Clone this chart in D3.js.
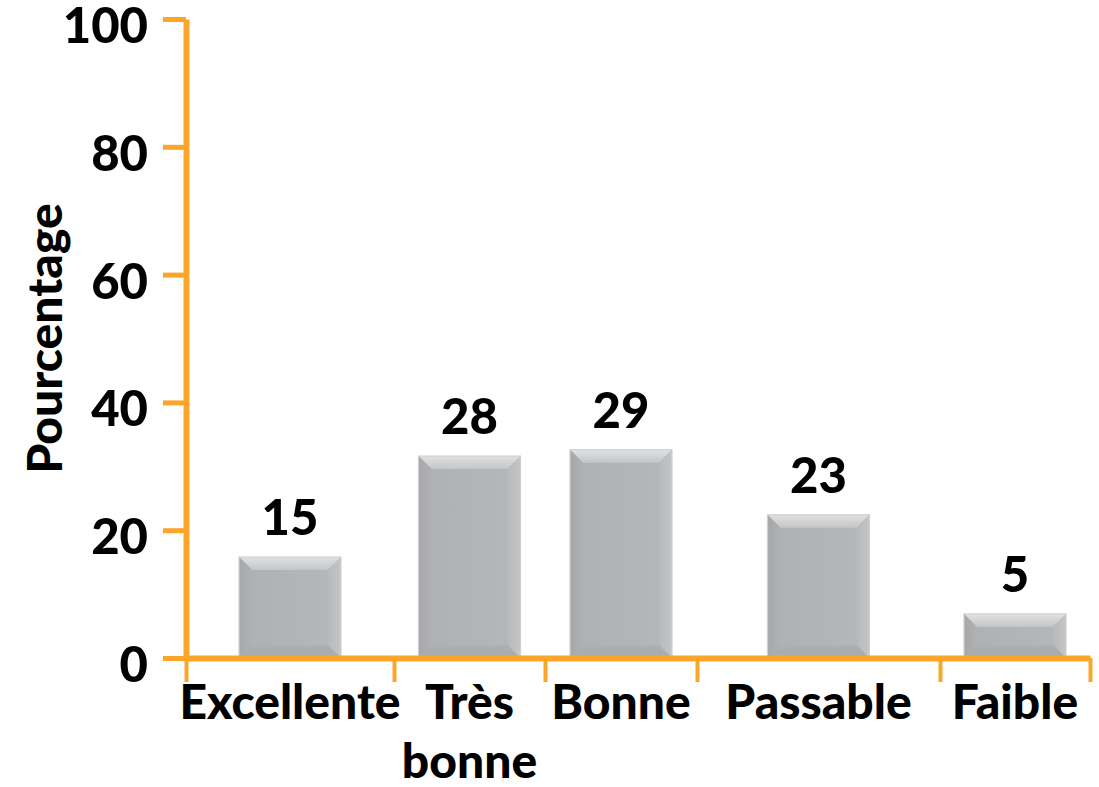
<!DOCTYPE html>
<html>
<head>
<meta charset="utf-8">
<script src="https://cdn.jsdelivr.net/npm/d3@7"></script>
<style>
  html, body { margin: 0; padding: 0; background: #fff; }
  svg { display: block; }
  text { font-family: Lato, "Open Sans", sans-serif; font-weight: 900; fill: #000; }
</style>
</head>
<body>
<svg id="chart" width="1099" height="787"></svg>
<script>
const categories = ["Excellente", "Très bonne", "Bonne", "Passable", "Faible"];
const barValues = [15.8, 31.6, 32.6, 22.4, 6.9];
const labelValues = [15, 28, 29, 23, 5];
const yTicks = [0, 20, 40, 60, 80, 100];
const yTitle = "Pourcentage";

const svg = d3.select("#chart");
const orange = "#FBA62B";

const y = d3.scaleLinear().domain([0, 100]).range([658, 19]);
const x = d3.scaleLinear().domain([0, 1, 2, 3, 4, 5]).range([186, 394, 545, 697, 940, 1090]);

const defs = svg.append("defs");
function grad(id, x1, y1, x2, y2, c1, c2) {
  const g = defs.append("linearGradient").attr("id", id)
    .attr("x1", x1).attr("y1", y1).attr("x2", x2).attr("y2", y2);
  g.append("stop").attr("offset", "0%").attr("stop-color", c1);
  g.append("stop").attr("offset", "100%").attr("stop-color", c2);
}
grad("gTop", 0, 1, 0, 0, "#C4C5C7", "#E0E1E3");
grad("gLeft", 1, 0, 0, 0, "#B0B1B3", "#A6A7A9");
grad("gRight", 0, 0, 1, 0, "#B8B9BB", "#C4C5C7");
grad("gBot", 0, 0, 0, 1, "#AEAFB1", "#A8A9AB");
grad("gFace", 0, 0, 1, 0, "#AFB0B2", "#B6B7B9");

const barW = 102;
const bars = svg.append("g").attr("class", "bars");
barValues.forEach((v, i) => {
  const cx = x(i + 0.5);
  const x0 = cx - barW / 2, x1 = cx + barW / 2;
  const y0 = y(v), y1 = y(0);
  const h = y1 - y0;
  const b = Math.min(13, h / 2);
  const g = bars.append("g");
  g.append("rect").attr("x", x0).attr("y", y0).attr("width", barW).attr("height", h).attr("fill", "url(#gFace)");
  const pts = a => a.map(p => p.join(",")).join(" ");
  g.append("polygon").attr("points", pts([[x0, y0], [x1, y0], [x1 - b, y0 + b], [x0 + b, y0 + b]])).attr("fill", "url(#gTop)");
  g.append("polygon").attr("points", pts([[x0, y0], [x0 + b, y0 + b], [x0 + b, y1 - b], [x0, y1]])).attr("fill", "url(#gLeft)");
  g.append("polygon").attr("points", pts([[x1, y0], [x1, y1], [x1 - b, y1 - b], [x1 - b, y0 + b]])).attr("fill", "url(#gRight)");
  g.append("polygon").attr("points", pts([[x0, y1], [x0 + b, y1 - b], [x1 - b, y1 - b], [x1, y1]])).attr("fill", "url(#gBot)");
  g.append("rect").attr("x", x0).attr("y", y0).attr("width", barW).attr("height", h)
    .attr("fill", "none").attr("stroke", "#D0D0D2").attr("stroke-width", 1.2);
});

// value labels
svg.append("g").selectAll("text").data(labelValues).join("text")
  .attr("x", (d, i) => x(i + 0.5))
  .attr("y", (d, i) => y(barValues[i]) - 22)
  .attr("text-anchor", "middle")
  .style("font-size", "49px")
  .text(d => d);

// y axis
const yAxis = svg.append("g").attr("transform", `translate(${x(0)},0)`)
  .call(d3.axisLeft(y).tickValues(yTicks).tickSize(23).tickSizeOuter(0).tickPadding(15));
yAxis.select(".domain").attr("stroke", orange).attr("stroke-width", 6);
yAxis.selectAll(".tick line").attr("stroke", orange).attr("stroke-width", 5);
yAxis.selectAll(".tick text").style("font-size", "49px").attr("fill", "#000").attr("dy", "0.48em");

// x axis
const xAxis = svg.append("g").attr("transform", `translate(0,${y(0)})`)
  .call(d3.axisBottom(x).tickValues([0, 1, 2, 3, 4, 5]).tickSize(24).tickSizeOuter(0).tickFormat(""));
xAxis.select(".domain").attr("stroke", orange).attr("stroke-width", 6);
xAxis.selectAll(".tick line").attr("stroke", orange).attr("stroke-width", 4);

// category labels with wrapping
const catG = svg.append("g");
categories.forEach((c, i) => {
  const bandW = x(i + 1) - x(i);
  const t = catG.append("text").attr("x", x(i + 0.5)).attr("y", 719)
    .attr("text-anchor", "middle").style("font-size", "48px");
  const words = c.split(" ");
  let line = [];
  let ts = t.append("tspan").attr("x", x(i + 0.5)).attr("dy", 0);
  words.forEach(w => {
    line.push(w);
    ts.text(line.join(" "));
    if (line.length > 1 && ts.node().getComputedTextLength() > bandW) {
      line.pop();
      ts.text(line.join(" "));
      line = [w];
      ts = t.append("tspan").attr("x", x(i + 0.5)).attr("dy", 59).text(w);
    }
  });
});

// y title
svg.append("text")
  .attr("transform", `translate(62,${(y(0) + y(100)) / 2}) rotate(-90)`)
  .attr("text-anchor", "middle")
  .style("font-size", "48px")
  .text(yTitle);
</script>
</body>
</html>
